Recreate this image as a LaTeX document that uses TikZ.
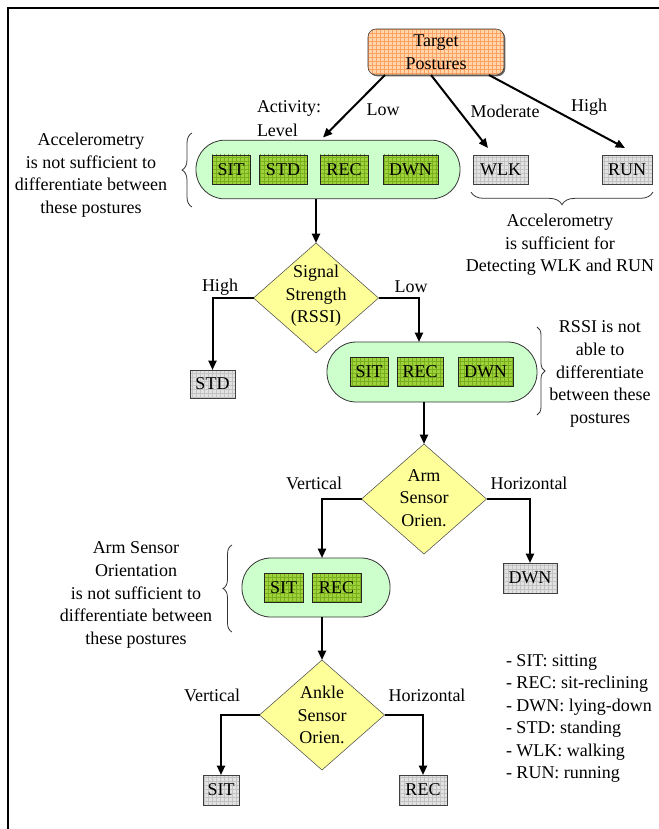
\documentclass[tikz,border=0pt]{standalone}
\usepackage{fontspec}
\setmainfont{Liberation Serif}
\usetikzlibrary{shapes.geometric,arrows.meta,patterns,decorations.pathreplacing,shadows}
\definecolor{orgfill}{RGB}{255,214,170}
\definecolor{orggrid}{RGB}{255,160,100}
\definecolor{palegreen}{RGB}{204,255,204}
\definecolor{leaf}{RGB}{160,210,60}
\definecolor{leafgrid}{RGB}{120,175,30}
\definecolor{paleyellow}{RGB}{255,255,153}
\definecolor{boxgray}{RGB}{226,226,226}
\definecolor{gridgray}{RGB}{195,195,195}
\begin{document}
\begin{tikzpicture}[x=0.75pt,y=-0.75pt,
 every node/.style={font=\fontsize{13.5pt}{16.9pt}\selectfont, inner sep=0pt, outer sep=0pt},
 txt/.style={align=center},
 shadowed/.style={drop shadow={shadow xshift=1pt,shadow yshift=-1pt,fill=black!60,opacity=1}},
 targetbox/.style={shadowed, preaction={fill=orgfill}, pattern=grid, pattern color=orggrid, draw=black!80, rounded corners=6pt, align=center, minimum width=102pt, minimum height=34.5pt},
 groupbox/.style={draw=black!80, fill=palegreen, line width=0.6pt},
 leafbox/.style={preaction={fill=leaf}, pattern=grid, pattern color=leafgrid, draw=black!85, minimum height=22pt},
 graybox/.style={shadowed, preaction={fill=boxgray}, pattern=grid, pattern color=gridgray, draw=black!75, minimum height=21.75pt},
 decision/.style={diamond, draw=black!70, fill=paleyellow, minimum width=93.75pt, minimum height=82.5pt},
 arr/.style={line width=1.5pt, -{Triangle[length=7pt,width=6pt]}},
 curly/.style={decorate, decoration={brace, amplitude=7.5pt}, line width=0.6pt, draw=black!80},
]
\useasboundingbox (0,0) rectangle (659,829);
\draw[line width=1.2pt] (8,829) -- (8,8) -- (659,8);

% target
\node[targetbox] (t) at (436,52) {Target\\Postures};

% group 1
\node[groupbox, rounded corners=21.5pt, minimum width=198pt, minimum height=44pt] (g1) at (328,169.5) {};
\node[leafbox, minimum width=28.5pt] (g1sit) at (231,169.5) {SIT};
\node[leafbox, minimum width=36pt] (g1std) at (283,169.5) {STD};
\node[leafbox, minimum width=36pt] (g1rec) at (344,169.5) {REC};
\node[leafbox, minimum width=41.25pt] (g1dwn) at (410.5,169.5) {DWN};

\node[graybox, minimum width=41.25pt] (wlk) at (500.5,169.5) {WLK};
\node[graybox, minimum width=37.5pt] (run) at (627,169.5) {RUN};

% decision 1
\node[decision] (d1) at (316,298) {};
\node[txt] (d1t) at (316,296) {Signal\\Strength\\(RSSI)};
\node[graybox, minimum width=33.75pt, minimum height=21pt] (std) at (212.5,384) {STD};

% group 2
\node[groupbox, rounded corners=22pt, minimum width=157.5pt, minimum height=45pt] (g2) at (432,372) {};
\node[leafbox, minimum width=28.5pt] (g2sit) at (369,372) {SIT};
\node[leafbox, minimum width=34.5pt] (g2rec) at (420,372) {REC};
\node[leafbox, minimum width=41.25pt] (g2dwn) at (485.5,372) {DWN};

% decision 2
\node[decision] (d2) at (424,499) {};
\node[txt] (d2t) at (424,498) {Arm\\Sensor\\Orien.};
\node[graybox, minimum width=40.5pt, minimum height=22.5pt] (dwn) at (530,578) {DWN};

% group 3
\node[groupbox, rounded corners=21.5pt, minimum width=111pt, minimum height=44.25pt] (g3) at (316,587.5) {};
\node[leafbox, minimum width=29.25pt] (g3sit) at (283.5,588) {SIT};
\node[leafbox, minimum width=36.75pt] (g3rec) at (336.5,588) {REC};

% decision 3
\node[decision] (d3) at (322,715) {};
\node[txt] (d3t) at (322,715) {Ankle\\Sensor\\Orien.};
\node[graybox, minimum width=27pt, minimum height=22.5pt] (sitf) at (221,790) {SIT};
\node[graybox, minimum width=36pt, minimum height=22.5pt] (recf) at (423,790) {REC};

% connectors
\draw[arr] ([xshift=-38.25pt]t.south) -- ([xshift=-3.75pt,yshift=2pt]g1.north);
\draw[arr] ([xshift=-3.75pt]t.south) -- ([xshift=-9.4pt,yshift=5.25pt]wlk.north);
\draw[arr] ([xshift=39.75pt]t.south) -- ([xshift=-1.5pt,yshift=5.25pt]run.north);
\draw[arr] ([xshift=-9pt]g1.south) -- (d1.north);
\draw[arr] (d1.west) -| (std.north);
\draw[arr] (d1.east) -| ([xshift=-9.75pt]g2.north);
\draw[arr] ([xshift=-6pt]g2.south) -- (d2.north);
\draw[arr] (d2.west) -| ([xshift=4.5pt]g3.north);
\draw[arr] (d2.east) -| (dwn.north);
\draw[arr] ([xshift=4.5pt]g3.south) -- (d3.north);
\draw[arr] (d3.west) -| (sitf.north);
\draw[arr] (d3.east) -| (recf.north);

% labels
\node (lowA) at (383,110) {Low};
\node[anchor=west] (actA) at (257,108) {Activity:};
\node[anchor=west] (lvlA) at (257,130) {Level};
\node (modA) at (505,111) {Moderate};
\node (highA) at (589,107) {High};
\node (highB) at (220,287) {High};
\node (lowB) at (411,287) {Low};
\node (vertB) at (314,483) {Vertical};
\node (horzB) at (529,483) {Horizontal};
\node (vertC) at (212,695) {Vertical};
\node (horzC) at (427,695) {Horizontal};

% braces and notes
\draw[curly] (192,207) -- (192,133);
\node[txt] (note1) at (91,175) {Accelerometry\\is not sufficient to\\differentiate between\\these postures};
\draw[curly, decoration={brace, amplitude=9.5pt}] (653,192) -- (471,192);
\node[txt] (note2) at (560,245) {Accelerometry\\is sufficient for\\Detecting WLK and RUN};
\draw[curly, decoration={brace, amplitude=6pt}] (537,327) -- (537,415);
\node[txt] (note3) at (600,374) {RSSI is not\\able to\\differentiate\\between these\\postures};
\draw[curly, decoration={brace, amplitude=6.75pt}] (232,632) -- (232,545);
\node[txt] (note4) at (136,595) {Arm Sensor\\Orientation\\is not sufficient to\\differentiate between\\these postures};

\node[align=left, anchor=west] (legend) at (506,718.5) {- SIT: sitting\\- REC: sit-reclining\\- DWN: lying-down\\- STD: standing\\- WLK: walking\\- RUN: running};
\end{tikzpicture}
\end{document}
